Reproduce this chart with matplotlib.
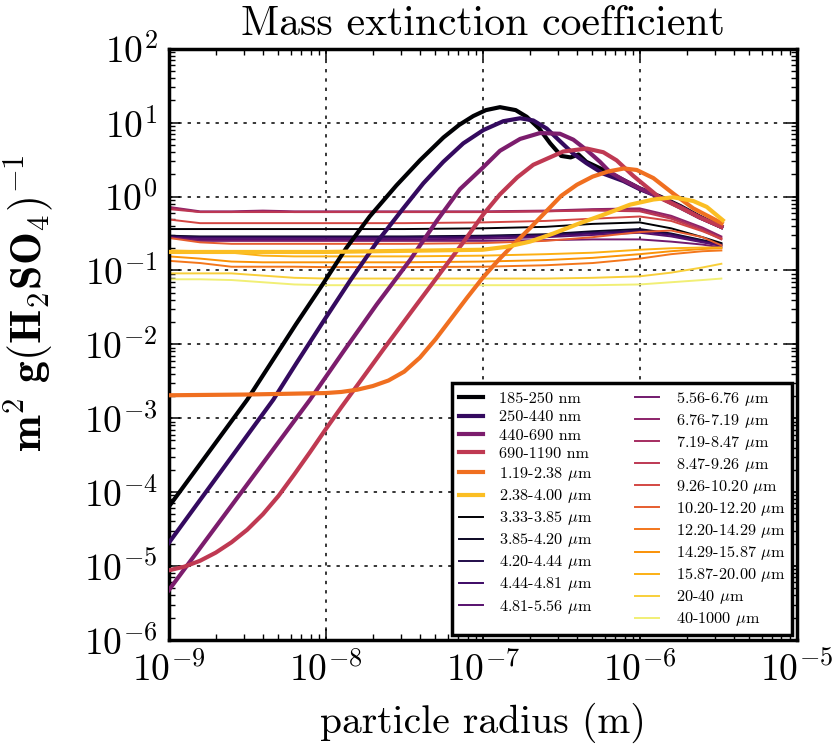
import numpy as np
import matplotlib
matplotlib.use("Agg")
import matplotlib.pyplot as plt
from matplotlib.ticker import LogLocator, NullFormatter

plt.rcParams['font.family'] = 'serif'
plt.rcParams['font.serif'] = ['cmr10', 'DejaVu Serif']
plt.rcParams['mathtext.fontset'] = 'cm'
plt.rcParams['axes.unicode_minus'] = False
plt.rcParams['axes.formatter.use_mathtext'] = True
plt.rcParams['lines.scale_dashes'] = False

# log10 of particle radius (m) and log10 of mass extinction (m^2/g)
# broadband (thick) curves
r_185 = [-9.0, -8.50, -8.36, -8.19, -8.02, -7.87, -7.72, -7.55, -7.40, -7.25, -7.15, -7.06, -6.98, -6.89,
         -6.79, -6.72, -6.64, -6.57, -6.50, -6.44, -6.39, -6.34, -6.23, -6.10, -6.00, -5.87, -5.74, -5.62, -5.48]
k_185 = [-4.20, -2.75, -2.29, -1.73, -1.19, -0.70, -0.27, 0.15, 0.49, 0.80, 0.97, 1.09, 1.17, 1.21,
         1.17, 1.08, 0.92, 0.72, 0.55, 0.53, 0.57, 0.47, 0.36, 0.22, 0.11, 0.00, -0.13, -0.27, -0.41]

r_250 = [-9.0, -8.334, -8.185, -8.015, -7.845, -7.675, -7.506, -7.378, -7.251, -7.124, -6.996, -6.869, -6.762,
         -6.678, -6.592, -6.508, -6.423, -6.338, -6.232, -6.104, -6.0, -5.87, -5.74, -5.62, -5.48]
k_250 = [-4.69, -2.75, -2.25, -1.69, -1.14, -0.62, -0.16, 0.18, 0.47, 0.72, 0.90, 1.02, 1.06,
         1.03, 0.92, 0.75, 0.58, 0.45, 0.31, 0.21, 0.10, -0.01, -0.15, -0.28, -0.41]

r_440 = [-9.0, -8.10, -7.888, -7.675, -7.463, -7.293, -7.145, -7.0, -6.890, -6.762, -6.635, -6.508, -6.423,
         -6.338, -6.253, -6.189, -6.10, -6.0, -5.87, -5.74, -5.62, -5.48]
k_440 = [-5.33, -2.75, -2.10, -1.46, -0.86, -0.33, 0.10, 0.39, 0.62, 0.78, 0.86, 0.85, 0.77,
         0.63, 0.47, 0.33, 0.22, 0.11, -0.01, -0.14, -0.28, -0.41]

r_690 = [-9.0, -8.9, -8.8, -8.7, -8.6, -8.5, -8.4, -8.3, -8.2, -8.1, -8.0, -7.9, -7.845, -7.633, -7.42,
         -7.251, -7.124, -6.996, -6.890, -6.78, -6.678, -6.487, -6.338, -6.232, -6.147, -6.041, -5.87,
         -5.74, -5.62, -5.48]
k_690 = [-5.06, -5.01, -4.93, -4.82, -4.68, -4.51, -4.30, -4.05, -3.76, -3.46, -3.15, -2.85, -2.69, -2.07,
         -1.46, -0.98, -0.62, -0.24, 0.03, 0.26, 0.43, 0.61, 0.65, 0.60, 0.49, 0.28, -0.02,
         -0.15, -0.28, -0.41]

r_119 = [-9.0, -8.5, -8.0, -7.9, -7.8, -7.7, -7.6, -7.5, -7.4, -7.3, -7.2, -7.1, -7.0, -6.9, -6.8, -6.7,
         -6.6, -6.5, -6.4, -6.3, -6.2, -6.1, -6.019, -5.913, -5.786, -5.659, -5.478]
k_119 = [-2.69, -2.68, -2.66, -2.645, -2.615, -2.565, -2.49, -2.37, -2.18, -1.93, -1.65, -1.37, -1.10,
         -0.86, -0.64, -0.43, -0.21, 0.01, 0.16, 0.27, 0.34, 0.38, 0.36, 0.25, 0.04, -0.16, -0.36]

r_238 = [-9.0, -8.0, -7.0, -6.847, -6.699, -6.550, -6.380, -6.210, -6.062, -5.913, -5.786, -5.659, -5.573, -5.471]
k_238 = [-0.75, -0.75, -0.72, -0.68, -0.61, -0.50, -0.36, -0.23, -0.11, -0.04, -0.01, -0.06, -0.14, -0.32]

thick_labels = ['185-250 nm', '250-440 nm', '440-690 nm', '690-1190 nm',
                r'1.19-2.38 $\mu$m', r'2.38-4.00 $\mu$m']
thick_r = [r_185, r_250, r_440, r_690, r_119, r_238]
thick_k = [k_185, k_250, k_440, k_690, k_119, k_238]

# narrow IR bands (thin curves), shared radius grid
r_thin = [-9.0, -8.8, -8.6, -8.4, -8.2, -8.0, -7.5, -7.0, -6.6, -6.3, -6.0, -5.8, -5.6, -5.48]
k_333 = [-0.44, -0.44, -0.44, -0.44, -0.44, -0.44, -0.44, -0.43, -0.41, -0.37, -0.35, -0.43, -0.55, -0.63]
k_385 = [-0.53, -0.54, -0.54, -0.54, -0.54, -0.54, -0.54, -0.53, -0.51, -0.47, -0.44, -0.50, -0.59, -0.64]
k_420 = [-0.54, -0.55, -0.55, -0.55, -0.55, -0.55, -0.55, -0.54, -0.52, -0.49, -0.46, -0.51, -0.60, -0.65]
k_444 = [-0.55, -0.56, -0.56, -0.56, -0.56, -0.56, -0.56, -0.55, -0.53, -0.50, -0.47, -0.52, -0.61, -0.66]
k_481 = [-0.56, -0.58, -0.58, -0.58, -0.58, -0.58, -0.58, -0.57, -0.55, -0.52, -0.49, -0.54, -0.62, -0.67]
k_556 = [-0.55, -0.60, -0.60, -0.60, -0.60, -0.60, -0.60, -0.60, -0.59, -0.58, -0.58, -0.61, -0.65, -0.69]
k_676 = [-0.14, -0.20, -0.20, -0.19, -0.20, -0.20, -0.20, -0.20, -0.19, -0.17, -0.16, -0.26, -0.42, -0.54]
k_719 = [-0.15, -0.21, -0.21, -0.20, -0.21, -0.21, -0.21, -0.21, -0.20, -0.18, -0.18, -0.28, -0.44, -0.56]
k_847 = [-0.17, -0.21, -0.21, -0.21, -0.21, -0.21, -0.21, -0.21, -0.20, -0.19, -0.20, -0.30, -0.46, -0.58]
k_926 = [-0.31, -0.36, -0.36, -0.36, -0.36, -0.36, -0.36, -0.35, -0.33, -0.30, -0.27, -0.33, -0.47, -0.57]
k_1020 = [-0.56, -0.62, -0.64, -0.64, -0.64, -0.64, -0.64, -0.63, -0.60, -0.55, -0.48, -0.46, -0.55, -0.66]
k_1220 = [-0.87, -0.90, -0.95, -0.95, -0.95, -0.955, -0.955, -0.95, -0.93, -0.90, -0.84, -0.78, -0.74, -0.73]
k_1429 = [-0.81, -0.84, -0.88, -0.89, -0.89, -0.89, -0.89, -0.88, -0.86, -0.83, -0.78, -0.74, -0.71, -0.70]
k_1587 = [-0.73, -0.74, -0.76, -0.80, -0.81, -0.81, -0.81, -0.80, -0.78, -0.76, -0.72, -0.70, -0.69, -0.69]
k_2040 = [-1.04, -1.04, -1.04, -1.07, -1.10, -1.11, -1.11, -1.11, -1.11, -1.10, -1.08, -1.03, -0.96, -0.91]
k_40 = [-1.12, -1.12, -1.13, -1.16, -1.19, -1.20, -1.20, -1.20, -1.20, -1.20, -1.19, -1.16, -1.13, -1.11]

thin_labels = [r'3.33-3.85 $\mu$m', r'3.85-4.20 $\mu$m', r'4.20-4.44 $\mu$m', r'4.44-4.81 $\mu$m',
               r'4.81-5.56 $\mu$m', r'5.56-6.76 $\mu$m', r'6.76-7.19 $\mu$m', r'7.19-8.47 $\mu$m',
               r'8.47-9.26 $\mu$m', r'9.26-10.20 $\mu$m', r'10.20-12.20 $\mu$m', r'12.20-14.29 $\mu$m',
               r'14.29-15.87 $\mu$m', r'15.87-20.00 $\mu$m', r'20-40 $\mu$m', r'40-1000 $\mu$m']
thin_k = [k_333, k_385, k_420, k_444, k_481, k_556, k_676, k_719, k_847, k_926,
          k_1020, k_1220, k_1429, k_1587, k_2040, k_40]

fig = plt.figure(figsize=(8.39, 7.51), dpi=100)
ax = fig.add_axes([0.2011, 0.1481, 0.7485, 0.7869])

thick_cols = plt.cm.inferno(np.linspace(0, 0.85, len(thick_labels)))
thin_cols = plt.cm.inferno(np.linspace(0, 0.95, len(thin_labels)))

for lab, r, k, c in zip(thick_labels, thick_r, thick_k, thick_cols):
    ax.plot(10**np.array(r), 10**np.array(k), color=c, lw=3, label=lab, zorder=3)
for lab, k, c in zip(thin_labels, thin_k, thin_cols):
    ax.plot(10**np.array(r_thin), 10**np.array(k), color=c, lw=1.4, label=lab, zorder=2)

ax.set_xscale('log')
ax.set_yscale('log')
ax.set_xlim(1e-9, 1e-5)
ax.set_ylim(1e-6, 1e2)
for axis in (ax.xaxis, ax.yaxis):
    axis.set_major_locator(LogLocator(base=10, numticks=20))
    axis.set_minor_locator(LogLocator(base=10, subs=np.arange(2, 10), numticks=20))
    axis.set_minor_formatter(NullFormatter())

ax.grid(True, which='major', color='k', lw=1.1, linestyle=(0, (2.4, 4.3)))
ax.tick_params(which='both', direction='in', top=True, right=True, labelsize=27)
ax.tick_params(which='major', length=8, width=1.1, pad=8)
ax.tick_params(which='minor', length=4, width=1.0)
for s in ax.spines.values():
    s.set_linewidth(2.5)

ax.set_title('Mass extinction coefficient', fontsize=30, pad=10)
ax.set_xlabel('particle radius (m)', fontsize=28.5, labelpad=10)
ax.set_ylabel(r'$\mathbf{m^2\ g(H_2SO_4)^{-1}}$', fontsize=31.5)
ax.yaxis.set_label_coords(-0.18, 0.57)

leg = ax.legend(ncol=2, loc='lower right', fontsize=11.7, fancybox=False, framealpha=1,
                edgecolor='k', handlelength=1.5, handletextpad=1.0, columnspacing=2.6,
                labelspacing=0.25, borderaxespad=0.3)
leg.get_frame().set_linewidth(2.5)

fig.savefig('out.png', dpi=100)
